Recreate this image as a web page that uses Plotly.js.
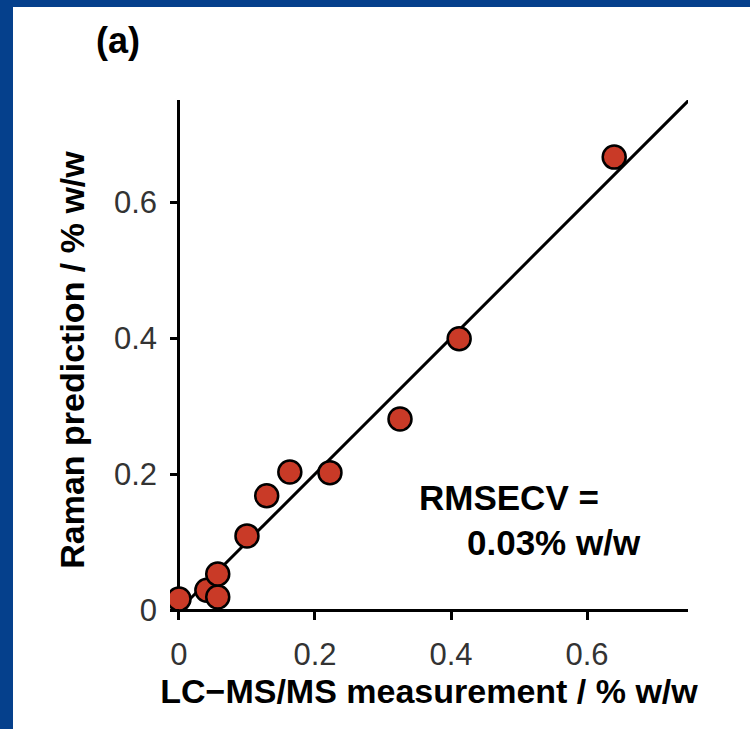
<!DOCTYPE html>
<html>
<head>
<meta charset="utf-8">
<script src="https://cdn.plot.ly/plotly-3.0.1.min.js"></script>
<style>
  html, body { margin: 0; padding: 0; width: 750px; height: 729px; background: #05408c; overflow: hidden; }
  #chart { position: absolute; left: 13px; top: 7px; width: 737px; height: 722px; background: #fff; }
</style>
</head>
<body>
<div id="chart"></div>
<script>
// LC-MS/MS measurement (% w/w)
const measured  = [0.000, 0.041, 0.057, 0.057, 0.100, 0.129, 0.163, 0.222, 0.325, 0.412, 0.640];
// Raman prediction (% w/w)
const predicted = [0.016, 0.029, 0.019, 0.053, 0.109, 0.168, 0.203, 0.202, 0.281, 0.399, 0.666];
// identity line
const lineX = [0, 0.75];
const lineY = [0, 0.75];
const xTicks = [0, 0.2, 0.4, 0.6];
const xTickLabels = ['0', '0.2', '0.4', '0.6'];
const yTicks = [0, 0.2, 0.4, 0.6];
const yTickLabels = ['0', '0.2', '0.4', '0.6'];

const FONT = 'Liberation Sans, Arial, Helvetica, sans-serif';

const traces = [
  {
    x: lineX, y: lineY, mode: 'lines', type: 'scatter',
    line: { color: '#000', width: 3 }, hoverinfo: 'skip', showlegend: false
  },
  {
    x: measured, y: predicted, mode: 'markers', type: 'scatter',
    marker: { size: 23, color: '#c93a27', line: { color: '#000', width: 2.5 } },
    showlegend: false
  }
];

const layout = {
  width: 737, height: 722,
  margin: { l: 157, r: 62, t: 93, b: 109 },
  paper_bgcolor: '#fff', plot_bgcolor: '#fff',
  font: { family: FONT, color: '#000' },
  showlegend: false,
  xaxis: {
    range: [-0.0132, 0.7485],
    tickvals: xTicks, ticktext: xTickLabels,
    ticks: 'inside', ticklen: 9, tickwidth: 3, tickcolor: '#000',
    showgrid: false, showline: false,
    zeroline: true, zerolinecolor: '#000', zerolinewidth: 3,
    tickfont: { family: FONT, size: 31, color: '#333' },
    ticklabelstandoff: 13,
    title: { text: '<b>LC\u2212MS/MS measurement / % w/w</b>', font: { family: FONT, size: 34, color: '#000' }, standoff: 6 },
    fixedrange: true
  },
  yaxis: {
    range: [-0.0147, 0.75],
    tickvals: yTicks, ticktext: yTickLabels,
    ticks: 'inside', ticklen: 9, tickwidth: 3, tickcolor: '#000',
    showgrid: false, showline: false,
    zeroline: true, zerolinecolor: '#000', zerolinewidth: 3,
    tickfont: { family: FONT, size: 31, color: '#333' },
    ticklabelstandoff: 12,
    title: { text: '<b>Raman prediction / % w/w</b>', font: { family: FONT, size: 34, color: '#000' }, standoff: 18 },
    fixedrange: true
  },
  annotations: [
    { xref: 'paper', yref: 'paper', x: -0.100, y: 1.114, xanchor: 'center', yanchor: 'middle',
      text: '<b>(a)</b>', showarrow: false, font: { family: FONT, size: 36, color: '#000' } },
    { xref: 'x', yref: 'y', x: 0.350, y: 0.166, xanchor: 'left', yanchor: 'middle',
      text: '<b>RMSECV =</b>', showarrow: false, font: { family: FONT, size: 35, color: '#000' } },
    { xref: 'x', yref: 'y', x: 0.421, y: 0.100, xanchor: 'left', yanchor: 'middle',
      text: '<b>0.03% w/w</b>', showarrow: false, font: { family: FONT, size: 35, color: '#000' } }
  ]
};

Plotly.newPlot('chart', traces, layout, { displayModeBar: false, staticPlot: true });
</script>
</body>
</html>
